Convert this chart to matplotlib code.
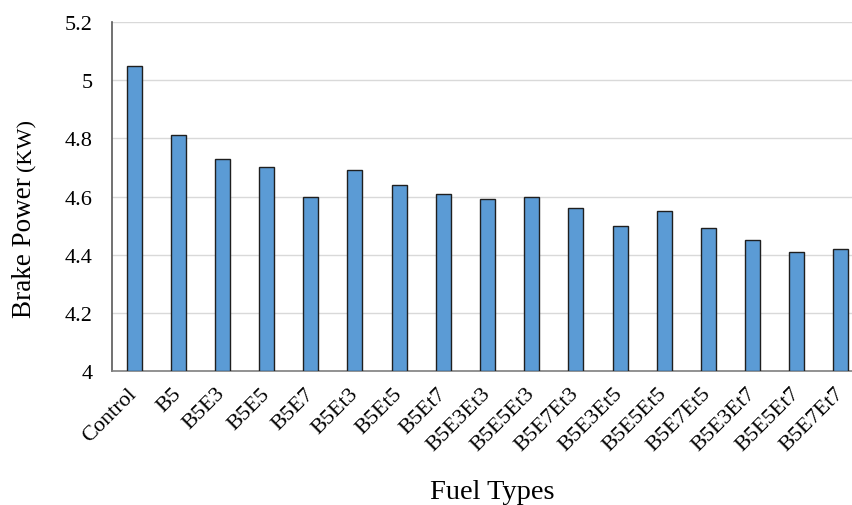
import matplotlib
matplotlib.use("Agg")
import matplotlib.pyplot as plt

categories = ["Control", "B5", "B5E3", "B5E5", "B5E7", "B5Et3", "B5Et5", "B5Et7",
              "B5E3Et3", "B5E5Et3", "B5E7Et3", "B5E3Et5", "B5E5Et5", "B5E7Et5",
              "B5E3Et7", "B5E5Et7", "B5E7Et7"]
brake_power = [5.05, 4.81, 4.73, 4.70, 4.60, 4.69, 4.64, 4.61,
               4.59, 4.60, 4.56, 4.50, 4.55, 4.49, 4.45, 4.41, 4.42]
yticks = [4, 4.2, 4.4, 4.6, 4.8, 5, 5.2]
ytick_labels = ["4", "4.2", "4.4", "4.6", "4.8", "5", "5.2"]

plt.rcParams['font.family'] = ['Liberation Serif', 'DejaVu Serif']

W, H = 852, 506
fig = plt.figure(figsize=(W / 100, H / 100), dpi=100)
left, right, top, bottom = 112, 863, 23, 372
ax = fig.add_axes([left / W, 1 - bottom / H, (right - left) / W, (bottom - top) / H])

x = list(range(len(categories)))
ax.bar(x, [v - 4 for v in brake_power], bottom=4, width=0.34,
       color="#5B9BD5", edgecolor="#1f1f1f", linewidth=1.0, zorder=3)

ax.set_xlim(-0.5, len(categories) - 0.5)
ax.set_ylim(4, 5.2)
ax.set_yticks(yticks)
ax.set_yticklabels(ytick_labels, fontsize=16)
ax.set_xticks(x)
ax.set_xticklabels(categories, rotation=45, ha='right', va='center',
                   rotation_mode='anchor', fontsize=16)
ax.tick_params(axis='both', length=0)
ax.tick_params(axis='y', pad=14)
ax.tick_params(axis='x', pad=14)

ax.yaxis.grid(True, color="#d9d9d9", linewidth=1.0, zorder=0)
ax.set_axisbelow(True)
for s in ["top", "right"]:
    ax.spines[s].set_visible(False)
ax.spines["left"].set_color("#595959")
ax.spines["left"].set_linewidth(1.2)
ax.spines["bottom"].set_color("#7f7f7f")
ax.spines["bottom"].set_linewidth(1.2)

# y label with mixed sizes
fig.text(25 / W, 1 - 318 / H, "Brake Power", rotation=90, ha='center', va='bottom',
         fontsize=19.5)
fig.text(27 / W, 1 - 171 / H, "(KW)", rotation=90, ha='center', va='bottom',
         fontsize=16)

fig.text(492 / W, 1 - 493 / H, "Fuel Types", ha='center', va='center', fontsize=20.5)

fig.savefig("out.png", dpi=100)
